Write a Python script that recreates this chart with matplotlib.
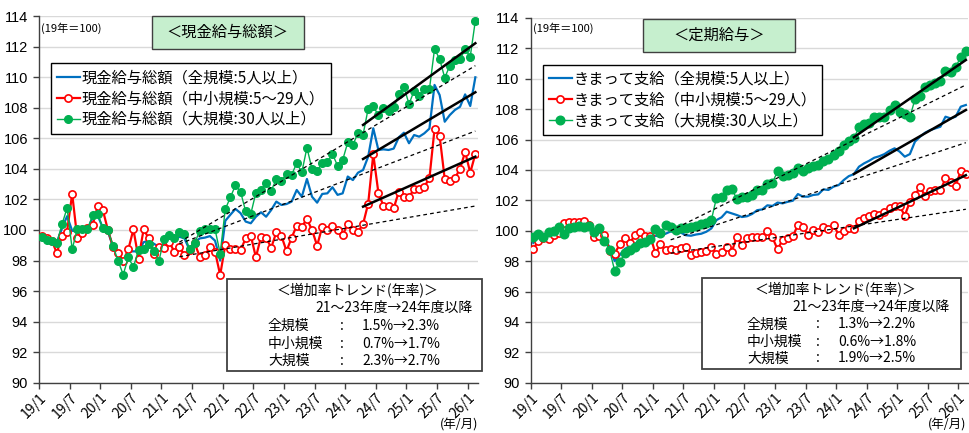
import matplotlib
matplotlib.use("Agg")
import matplotlib.pyplot as plt
from matplotlib.patches import Rectangle
import numpy as np

plt.rcParams["font.family"] = ["Noto Sans CJK JP", "DejaVu Sans"]

W, H = 969, 433

# ---------------- data (index, 2019 = 100), monthly 19/1 .. 26/2 ----------------
TICK_POS = [0, 6, 12, 18, 24, 30, 36, 42, 48, 54, 60, 66, 72, 78, 84]
TICK_LABELS = ["19/1", "19/7", "20/1", "20/7", "21/1", "21/7", "22/1", "22/7",
               "23/1", "23/7", "24/1", "24/7", "25/1", "25/7", "26/1"]

# 現金給与総額
total_all = [
    99.56, 99.4, 99.3, 99.2, 100.1, 100.9, 99.95, 99.9, 100.0, 100.05, 100.8, 100.95,
    100.15, 99.9, 98.9, 98.35, 97.7, 98.6, 98.6, 98.6, 99.2, 99.3, 99.1, 98.9,
    99.1, 99.35, 99.3, 99.56, 99.45, 98.7, 99.2, 99.45, 99.5, 99.6, 99.3, 98.0,
    100.6, 101.0, 101.38, 101.1, 100.55, 100.44, 100.87, 101.16, 100.87, 101.31, 101.86, 101.64,
    101.7, 101.86, 102.62, 102.18, 103.34, 102.18, 101.79, 102.36, 102.4, 102.8, 102.3, 102.4,
    103.5, 103.27, 103.75, 103.93, 104.8, 106.66, 105.24, 105.28, 105.24, 105.33, 106.07, 106.37,
    105.68, 106.22, 106.11, 106.33, 106.64, 109.5, 108.84, 107.09, 107.53, 107.86, 108.07, 108.88,
    108.12, 110.0,
]
total_small = [
    99.6, 99.45, 99.3, 98.5, 99.63, 99.9, 102.37, 99.45, 99.82, 100.1, 100.33, 101.55,
    101.32, 100.0, 98.9, 98.5, 97.98, 98.73, 100.04, 98.13, 100.04, 99.45, 98.46, 98.86,
    98.8, 99.24, 98.58, 98.91, 98.36, 98.69, 99.13, 98.25, 98.36, 98.86, 98.58, 97.05,
    99.02, 98.75, 98.73, 98.69, 99.45, 99.63, 98.21, 99.56, 99.5, 98.84, 99.85, 99.61,
    98.62, 99.5, 100.28, 100.22, 100.72, 100.0, 98.97, 100.22, 100.0, 100.28, 100.0, 99.67,
    100.39, 100.0, 99.87, 100.39, 101.73, 104.96, 102.44, 101.57, 101.57, 101.42, 102.51, 102.18,
    102.18, 102.66, 102.66, 102.84, 103.38, 106.61, 106.16, 103.34, 103.21, 103.38, 104.02, 105.11,
    103.75, 104.98,
]
total_large = [
    99.56, 99.34, 99.27, 99.16, 100.37, 101.43, 98.75, 100.04, 100.09, 100.04, 100.95, 101.03,
    100.15, 100.0, 98.95, 97.98, 97.08, 98.2, 97.58, 98.68, 98.77, 99.08, 98.64, 97.98,
    99.43, 99.67, 99.45, 99.87, 99.74, 98.73, 99.16, 99.93, 100.04, 100.09, 100.04, 98.46,
    101.36, 102.14, 102.93, 102.49, 101.22, 101.05, 102.44, 102.6, 103.1, 102.58, 103.32, 103.21,
    103.69, 103.62, 104.37, 103.78, 105.39, 103.99, 103.88, 104.37, 104.45, 104.98, 104.21, 104.58,
    105.74, 105.55, 106.37, 106.24, 107.95, 108.1, 107.51, 107.99, 107.79, 108.03, 108.88, 109.38,
    108.25, 109.12, 108.8, 109.23, 109.21, 111.85, 111.2, 109.97, 110.76, 111.13, 111.18, 111.83,
    111.35, 113.71,
]

# 定期給与（きまって支給）
reg_all = [
    99.2, 99.55, 99.6, 99.75, 99.85, 100.0, 99.9, 100.1, 100.15, 100.2, 100.2, 100.25,
    100.05, 100.15, 99.5, 98.9, 98.0, 98.4, 98.8, 99.0, 99.15, 99.3, 99.45, 99.6,
    99.65, 99.7, 99.8, 99.95, 99.93, 99.87, 99.7, 99.67, 99.75, 99.8, 99.93, 100.15,
    100.7, 100.88, 101.25, 101.14, 101.03, 100.9, 100.95, 101.1, 101.35, 101.4, 101.67, 101.63,
    101.85, 101.8, 101.9, 101.97, 102.41, 102.24, 102.24, 102.35, 102.39, 102.72, 102.68, 102.9,
    103.0, 103.33, 103.59, 103.72, 104.21, 104.43, 104.6, 104.8, 104.9, 105.04, 105.26, 105.42,
    105.2, 104.87, 105.04, 105.86, 106.18, 106.45, 106.62, 106.73, 106.84, 107.5, 107.39, 107.5,
    108.16, 108.27,
]
reg_small = [
    98.78, 99.34, 99.55, 99.45, 99.75, 99.85, 100.53, 100.55, 100.57, 100.57, 100.63, 100.4,
    99.6, 99.65, 99.75, 98.68, 98.5, 99.1, 99.5, 99.2, 99.72, 99.93, 99.65, 99.65,
    98.51, 99.1, 98.7, 98.77, 98.7, 98.84, 98.95, 98.43, 98.55, 98.62, 98.65, 98.95,
    98.45, 98.6, 98.95, 98.6, 99.61, 99.06, 99.5, 99.56, 99.56, 99.6, 100.0, 99.56,
    98.77, 99.4, 99.5, 99.63, 100.38, 100.24, 99.7, 100.05, 99.9, 100.24, 100.1, 100.4,
    99.72, 100.0, 100.15, 100.09, 100.66, 100.81, 100.96, 101.1, 101.03, 101.2, 101.5, 101.65,
    101.6, 101.0, 101.9, 102.35, 102.86, 102.3, 102.63, 102.7, 102.65, 103.44, 103.2, 102.97,
    103.92, 103.7,
]
reg_large = [
    99.56, 99.76, 99.6, 99.89, 100.0, 100.26, 99.76, 100.2, 100.26, 100.3, 100.26, 100.3,
    99.93, 100.15, 99.32, 98.73, 97.37, 97.96, 98.51, 98.73, 98.95, 99.17, 99.24, 99.43,
    100.09, 99.83, 100.37, 100.26, 100.04, 100.15, 100.2, 100.26, 100.3, 100.44, 100.53, 100.7,
    102.17, 102.24, 102.7, 102.75, 102.1, 102.24, 102.2, 102.37, 102.7, 102.7, 103.06, 103.17,
    103.9, 103.57, 103.66, 103.8, 104.12, 103.9, 104.15, 104.23, 104.3, 104.6, 104.72, 104.98,
    105.23, 105.64, 105.93, 106.08, 106.8, 107.0, 107.1, 107.5, 107.45, 107.47, 107.94, 108.25,
    107.83, 107.68, 107.47, 108.64, 108.86, 109.43, 109.58, 109.69, 109.87, 110.53, 110.46, 110.79,
    111.41, 111.84,
]

# trend lines: 21-23 FY trend (dashed, extended) and FY24- trend (solid)
DASH_X = [27.5, 85.5]
SOLID_X = [63.5, 85.5]
total_dash = {"all": [99.09, 106.48], "small": [98.25, 101.57], "large": [99.2, 110.76]}
total_solid = {"all": [104.65, 109.02], "small": [101.53, 104.8], "large": [106.88, 112.23]}
reg_dash = {"all": [99.4, 105.79], "small": [98.52, 101.41], "large": [100.0, 109.59]}
reg_solid = {"all": [103.73, 107.94], "small": [100.16, 103.65], "large": [106.15, 111.23]}

total_labels = ["現金給与総額（全規模:5人以上）", "現金給与総額（中小規模:5～29人）",
                "現金給与総額（大規模:30人以上）"]
reg_labels = ["きまって支給（全規模:5人以上）", "きまって支給（中小規模:5～29人）",
              "きまって支給（大規模:30人以上）"]
total_rates = [("全規模", "1.5%→2.3%"), ("中小規模", "0.7%→1.7%"), ("大規模", "2.3%→2.7%")]
reg_rates = [("全規模", "1.3%→2.2%"), ("中小規模", "0.6%→1.8%"), ("大規模", "1.9%→2.5%")]

BLUE = "#0070C0"
RED = "#FF0000"
GREEN = "#00B050"


def px(x, y):
    return x / W, 1 - y / H


def draw_panel(ax, s_all, s_small, s_large, labels, dash, solid, msize):
    x = np.arange(len(s_all)) + 0.5
    ax.plot(x, s_all, color=BLUE, lw=1.6, label=labels[0], zorder=3)
    ax.plot(x, s_small, color=RED, lw=1.6, marker="o", ms=5.2, mfc="white",
            mec=RED, mew=1.2, label=labels[1], zorder=4)
    ax.plot(x, s_large, color=GREEN, lw=1.0, marker="o", ms=msize, mfc=GREEN,
            mec=GREEN, label=labels[2], zorder=5)
    for key in ["all", "small", "large"]:
        ax.plot(DASH_X, dash[key], color="black", lw=0.9, ls=(0, (3, 2.5)), zorder=6)
        ax.plot(SOLID_X, solid[key], color="black", lw=1.8, zorder=6)

    ax.set_xlim(0, 86)
    ax.set_ylim(90, 114)
    ax.set_yticks(range(90, 115, 2))
    ax.set_xticks(TICK_POS)
    ax.set_xticklabels(TICK_LABELS, rotation=45, ha="right", rotation_mode="anchor",
                       fontsize=10)
    for lab in ax.get_yticklabels():
        lab.set_family("Liberation Sans")
        lab.set_fontsize(10.5)
    ax.tick_params(axis="both", direction="out", length=4, width=1, color="#404040")
    ax.tick_params(axis="y", pad=4)
    ax.tick_params(axis="x", pad=2)
    ax.yaxis.grid(True, color="#d9d9d9", lw=1)
    ax.set_axisbelow(True)
    for sp in ["top", "right"]:
        ax.spines[sp].set_visible(False)
    for sp in ["left", "bottom"]:
        ax.spines[sp].set_color("#404040")
        ax.spines[sp].set_linewidth(1)

    leg = ax.legend(loc="upper left", bbox_to_anchor=(0.027, 0.872), fontsize=11,
                    frameon=True, fancybox=False, edgecolor="black", framealpha=1,
                    handlelength=1.5, handletextpad=0.1, labelspacing=0.25,
                    borderpad=0.4, borderaxespad=0)
    leg.get_frame().set_linewidth(1.0)


def title_box(fig, x0, y0, x1, y1, text):
    fx0, fy1 = px(x0, y0)
    fx1, fy0 = px(x1, y1)
    fig.patches.append(Rectangle((fx0, fy0), fx1 - fx0, fy1 - fy0, transform=fig.transFigure,
                                 facecolor="#c6efce", edgecolor="#404040", lw=1, zorder=10))
    cx, cy = px((x0 + x1) / 2, (y0 + y1) / 2)
    fig.text(cx, cy, text, ha="center", va="center", fontsize=11, zorder=11)


def stats_box(fig, x0, y0, x1, y1, rows, col):
    fx0, fy1 = px(x0, y0)
    fx1, fy0 = px(x1, y1)
    fig.patches.append(Rectangle((fx0, fy0), fx1 - fx0, fy1 - fy0, transform=fig.transFigure,
                                 facecolor="white", edgecolor="#404040", lw=1.3, zorder=10))
    fig.text(*px(col[0], col[5]), "＜増加率トレンド(年率)＞", ha="left", va="center",
             fontsize=10, zorder=11)
    fig.text(*px(col[1], col[6]), "21～23年度→24年度以降", ha="right", va="center",
             fontsize=10, zorder=11)
    for i, (name, val) in enumerate(rows):
        y = col[7] + i * col[8]
        fig.text(*px(col[2], y), name, ha="left", va="center", fontsize=10, zorder=11)
        fig.text(*px(col[3], y), ":", ha="center", va="center", fontsize=10, zorder=11)
        fig.text(*px(col[4], y), val, ha="left", va="center", fontsize=10, zorder=11)


fig = plt.figure(figsize=(W / 100, H / 100), dpi=100)
ax1 = fig.add_axes([39 / W, 1 - 382.7 / H, 438.9 / W, (382.7 - 16.2) / H])
ax2 = fig.add_axes([530.7 / W, 1 - 382.7 / H, 437.7 / W, (382.7 - 17.9) / H])

draw_panel(ax1, total_all, total_small, total_large, total_labels, total_dash, total_solid, 5.5)
draw_panel(ax2, reg_all, reg_small, reg_large, reg_labels, reg_dash, reg_solid, 6.2)

fig.text(*px(41, 28), "(19年＝100)", ha="left", va="center", fontsize=8)
fig.text(*px(533, 28), "(19年＝100)", ha="left", va="center", fontsize=8)

title_box(fig, 151.7, 16, 304, 49.3, "＜現金給与総額＞")
title_box(fig, 643.3, 19, 795, 51.7, "＜定期給与＞")

stats_box(fig, 227, 279, 482, 371, total_rates,
          [277, 473, 268, 342, 362, 291, 308, 326, 17.5])
stats_box(fig, 702, 277.7, 961, 369.3, reg_rates,
          [755, 950, 747, 818, 838, 289.5, 306.7, 324.5, 17])

fig.text(*px(440, 432), "(年/月)", ha="left", va="bottom", fontsize=9)
fig.text(*px(928, 432), "(年/月)", ha="left", va="bottom", fontsize=9)

fig.savefig("out.png", dpi=100)
